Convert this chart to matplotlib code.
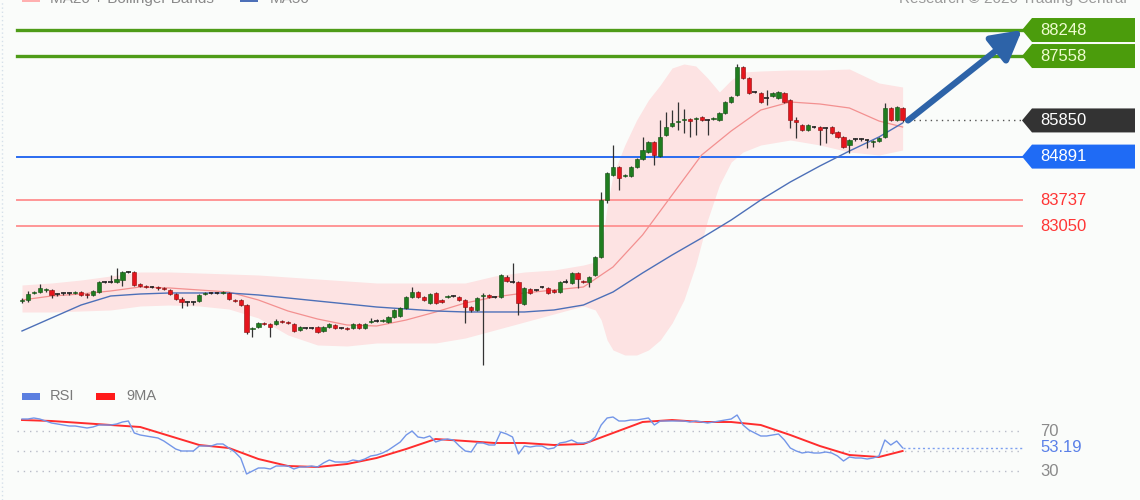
import numpy as np
import matplotlib.pyplot as plt
import matplotlib.transforms as mtransforms
from matplotlib.patches import Polygon, Rectangle
from matplotlib.lines import Line2D

plt.rcParams['font.family'] = ['Liberation Sans', 'DejaVu Sans']

# candles, one per bar from left to right
opens = [81061, 81088, 81274, 81300, 81353, 81353, 81247, 81274, 81274, 81274,
         81300, 81247, 81221, 81300, 81566, 81566, 81566, 81618, 81830, 81830,
         81512, 81459, 81433, 81433, 81406, 81353, 81247, 81115, 81035, 81035,
         81061, 81247, 81274, 81274, 81274, 81274, 81088, 81088, 80955, 80319,
         80372, 80478, 80451, 80451, 80531, 80504, 80451, 80292, 80345, 80345,
         80372, 80266, 80372, 80425, 80345, 80345, 80345, 80451, 80345, 80504,
         80531, 80531, 80504, 80637, 80664, 80876, 81168, 81300, 81168, 81008,
         81274, 81088, 81168, 81194, 81168, 81088, 80902, 80823, 81194, 81221,
         81168, 81168, 81698, 81566, 81566, 80982, 81380, 81353, 81433, 81406,
         81353, 81300, 81566, 81539, 81804, 81592, 81566, 81751, 82228, 83740,
         84403, 84615, 84377, 84377, 84615, 84827, 85013, 85278, 84907, 85464,
         85703, 85809, 85861, 85888, 85888, 85941, 85861, 85888, 85861, 86047,
         86339, 86525, 87267, 86975, 86604, 86578, 86445, 86498, 86445, 86578,
         86392, 85861, 85729, 85596, 85676, 85676, 85649, 85676, 85543, 85411,
         85199, 85358, 85358, 85331, 85278, 85305, 85411, 86180, 85861, 86180]
closes = [81088, 81247, 81300, 81406, 81380, 81221, 81247, 81274, 81274, 81300,
          81221, 81221, 81327, 81566, 81566, 81566, 81645, 81830, 81830, 81486,
          81459, 81433, 81433, 81406, 81380, 81247, 81115, 81035, 81035, 81035,
          81221, 81274, 81274, 81274, 81300, 81115, 81061, 80955, 80239, 80345,
          80478, 80451, 80372, 80531, 80504, 80478, 80266, 80372, 80345, 80345,
          80239, 80372, 80451, 80345, 80345, 80319, 80451, 80345, 80451, 80531,
          80531, 80557, 80637, 80823, 80876, 81168, 81300, 81168, 81088, 81247,
          81008, 81035, 81194, 81194, 81088, 80902, 80823, 81141, 81221, 81168,
          81168, 81751, 81592, 81566, 81008, 81406, 81274, 81353, 81433, 81274,
          81300, 81566, 81566, 81804, 81645, 81566, 81698, 82228, 83740, 84456,
          84615, 84324, 84403, 84615, 84827, 85066, 85278, 84933, 85411, 85676,
          85782, 85835, 85888, 85835, 85914, 85861, 85861, 85914, 86047, 86339,
          86472, 87267, 86975, 86578, 86604, 86339, 86445, 86578, 86604, 86339,
          85861, 85809, 85596, 85729, 85676, 85596, 85649, 85517, 85411, 85146,
          85331, 85358, 85358, 85331, 85305, 85384, 86180, 85861, 86206, 85850]
highs = [81141, 81327, 81327, 81512, 81406, 81380, 81274, 81300, 81300, 81327,
         81327, 81274, 81353, 81592, 81592, 81751, 81937, 81857, 81857, 81857,
         81539, 81486, 81459, 81459, 81433, 81380, 81274, 81168, 81061, 81061,
         81247, 81300, 81300, 81300, 81327, 81300, 81115, 81115, 80982, 80372,
         80504, 80504, 80478, 80584, 80557, 80531, 80478, 80398, 80372, 80372,
         80398, 80398, 80478, 80451, 80372, 80372, 80478, 80478, 80478, 80611,
         80584, 80584, 80664, 80849, 80902, 81194, 81433, 81327, 81194, 81274,
         81300, 81115, 81221, 81221, 81194, 81115, 80929, 81168, 81274, 81247,
         81194, 81778, 81751, 82069, 81592, 81433, 81406, 81380, 81459, 81433,
         81380, 81592, 81645, 81830, 81830, 81618, 81725, 82254, 83952, 84483,
         85199, 84642, 84430, 84642, 84854, 85411, 85305, 85305, 85861, 86074,
         86126, 86339, 86153, 85914, 85941, 85968, 85888, 85941, 86074, 86365,
         86498, 87347, 87294, 87002, 86631, 86604, 86657, 86604, 86631, 86604,
         86419, 85941, 85756, 85756, 85703, 85703, 85676, 85703, 85570, 85437,
         85358, 85384, 85384, 85358, 85331, 85411, 86312, 86206, 86233, 86206]
lows = [81008, 81035, 81247, 81274, 81300, 81141, 81194, 81221, 81221, 81247,
        81194, 81141, 81194, 81274, 81539, 81539, 81539, 81459, 81804, 81459,
        81433, 81406, 81406, 81353, 81353, 81221, 81088, 80876, 80929, 80955,
        81035, 81221, 81247, 81247, 81247, 81088, 81035, 80929, 80186, 80107,
        80345, 80425, 80107, 80425, 80478, 80451, 80239, 80266, 80319, 80319,
        80213, 80239, 80345, 80319, 80319, 80292, 80319, 80319, 80319, 80478,
        80504, 80504, 80478, 80611, 80637, 80849, 81141, 81141, 81061, 80982,
        80982, 81008, 81141, 81168, 81061, 80478, 80770, 80796, 79364, 81141,
        81141, 81141, 81566, 81539, 80690, 80955, 81247, 81327, 81406, 81247,
        81274, 81274, 81539, 81512, 81406, 81539, 81433, 81725, 82202, 83660,
        84377, 84005, 84350, 84350, 84588, 84801, 84986, 84668, 84880, 85437,
        85676, 85596, 85517, 85411, 85464, 85835, 85464, 85861, 85835, 86021,
        86312, 86498, 86949, 86551, 86578, 86312, 86259, 86472, 86419, 86312,
        85649, 85384, 85570, 85570, 85649, 85199, 85252, 85490, 85384, 85119,
        84986, 85305, 85305, 85119, 85146, 85278, 85384, 85835, 85835, 85809]

# moving averages
ind_idx = [0, 5, 10, 15, 20, 25, 30, 35, 40, 45, 50, 55, 60, 65, 70, 75,
           80, 85, 90, 95, 100, 105, 110, 115, 120, 125, 130, 135, 140, 145, 149]
ma20 = [81088, 81194, 81247, 81327, 81433, 81406, 81353, 81300, 81088, 80796,
        80584, 80425, 80398, 80557, 80770, 81008, 81168, 81274, 81353, 81433,
        81963, 82812, 83873, 84933, 85570, 86126, 86339, 86286, 86180, 85835, 85676]
ma50 = [80266, 80611, 80955, 81194, 81247, 81274, 81274, 81274, 81221, 81141,
        81061, 80982, 80902, 80849, 80796, 80770, 80770, 80770, 80823, 80955,
        81300, 81804, 82281, 82732, 83209, 83740, 84217, 84642, 85039, 85411, 85782]

# bollinger band, read denser where it bends
band_idx = [0, 5, 10, 15, 20, 25, 30, 35, 40, 45, 50, 55, 60, 65, 70, 75, 80, 85, 90,
            95, 97, 98, 99, 100, 102, 104, 106, 108, 110, 112, 114, 116, 118, 120, 122, 125,
            130, 135, 140, 145, 149]
bb_upper = [81486, 81539, 81618, 81725, 81830, 81830, 81804, 81778, 81751, 81698,
            81645, 81592, 81539, 81539, 81539, 81539, 81725, 81830, 81883,
            82016, 82096, 82414, 83554, 84403, 85199, 85861, 86392, 86790, 87241,
            87347, 87294, 86975, 86604, 86922, 87135, 87161,
            87188, 87188, 87214, 86843, 86737]
bb_lower = [80770, 80770, 80796, 80823, 80929, 80955, 80929, 80849, 80611, 80160,
            79895, 79868, 79948, 79948, 79948, 80080, 80292, 80504, 80717,
            80929, 80823, 80557, 80027, 79762, 79629, 79629, 79762, 80027, 80478,
            81088, 82016, 83209, 84138, 84748, 85013, 85199,
            85331, 85199, 85013, 84933, 85066]

rsi = [82, 82, 83, 82, 80, 78, 77, 76, 75, 75,
       74, 73, 74, 76, 76, 76, 77, 79, 80, 68,
       66, 65, 64, 63, 60, 56, 52, 50, 50, 50,
       55, 55, 55, 57, 57, 53, 49, 43, 27, 30,
       33, 33, 32, 35, 35, 35, 32, 34, 34, 35,
       34, 38, 41, 39, 39, 39, 41, 40, 42, 45,
       46, 48, 51, 55, 59, 66, 70, 64, 63, 65,
       59, 61, 62, 61, 55, 50, 49, 58, 58, 56,
       56, 69, 67, 64, 47, 55, 54, 55, 55, 52,
       53, 58, 59, 61, 58, 58, 59, 64, 76, 83,
       84, 80, 80, 81, 81, 82, 83, 76, 80, 80,
       80, 80, 80, 79, 80, 79, 78, 79, 80, 81,
       82, 86, 76, 71, 68, 65, 65, 66, 67, 61,
       53, 50, 48, 49, 48, 48, 49, 48, 45, 40,
       44, 43, 43, 42, 43, 45, 61, 56, 60, 53.19]
rsi_ma9 = [81, 80, 78, 76, 74, 65, 56, 53, 42, 35, 34, 37, 43, 52, 62, 60,
           58, 58, 56, 57, 68, 79, 81, 79, 79, 76, 66, 55, 46, 44, 50]

levels_green = [88248, 87558]
level_last = 85850
level_blue = 84891
levels_red = [83737, 83050]
rsi_grid = [70, 50, 30]
rsi_last = 53.19

W, H = 1140, 500
bar_step = 5.91
fig = plt.figure(figsize=(W / 100, H / 100), dpi=100)
fig.patch.set_facecolor('#fafcfa')

ax = fig.add_axes([0, 120 / H, 1, 380 / H])
ax2 = fig.add_axes([0, 0, 1, 120 / H])
for a in (ax, ax2):
    a.set_axis_off()
    a.patch.set_alpha(0)
    a.set_xlim(-22 / bar_step, (W - 22) / bar_step)
ax.set_ylim(78966, 89044)
ax2.set_ylim(1, 121)

def fx(px):
    return px / W

def fy(py):
    return 1 - py / H

def bar_at(px):
    return (px - 22) / bar_step

# bollinger band and moving averages
ax.fill_between(band_idx, bb_lower, bb_upper, color='#fde3e3', lw=0, zorder=1)
ax.plot(ind_idx, ma20, color='#f39090', lw=0.9, zorder=3)
ax.plot(ind_idx, ma50, color='#4d70b8', lw=1.0, zorder=3)

# candles
o = np.array(opens); c = np.array(closes)
h = np.array(highs); l = np.array(lows)
x = np.arange(len(o))
up = c > o
dn = c < o
fl = c == o
ax.vlines(x, l, h, color='#333333', lw=0.9, zorder=4)
ax.bar(x[up], (c - o)[up], bottom=o[up], width=0.72, color='#1f7d1f',
       edgecolor='#124d12', lw=0.4, zorder=5)
ax.bar(x[dn], (c - o)[dn], bottom=o[dn], width=0.72, color='#e5151d',
       edgecolor='#8c0b0b', lw=0.4, zorder=5)
ax.hlines(o[fl], x[fl] - 0.4, x[fl] + 0.4, color='#222222', lw=1.2, zorder=5)

# levels
for v in levels_green:
    ax.axhline(v, fx(17), fx(1022), color='#4e9c18', lw=2.4, zorder=2)
ax.axhline(level_blue, fx(17), fx(1022), color='#2a6cf0', lw=1.4, zorder=2)
for v in levels_red:
    ax.axhline(v, fx(17), fx(1022), color='#ff9696', lw=1.4, zorder=2)
ax.axhline(level_last, fx(908), fx(1022), color='#555555', lw=1.0, ls=(0, (1, 3)), zorder=2)

tr = mtransforms.blended_transform_factory(ax.transAxes, ax.transData)
units_per_px = (89044 - 78966) / 380

def tag(v, face, txt):
    hh = 12 * units_per_px
    pts = [(fx(1022), v), (fx(1032), v + hh), (fx(1135), v + hh),
           (fx(1135), v - hh), (fx(1032), v - hh)]
    ax.add_patch(Polygon(pts, closed=True, transform=tr, facecolor=face,
                         edgecolor='none', zorder=6, clip_on=False))
    ax.text(fx(1040), v, str(v), transform=tr, color=txt, fontsize=12,
            va='center', ha='left', zorder=7)

for v in levels_green:
    tag(v, '#4b9c0c', '#eefcd0')
tag(level_last, '#333333', '#ffffff')
tag(level_blue, '#1f6bf5', '#ffffff')
for v in levels_red:
    ax.text(fx(1040), v, str(v), transform=tr, color='#ff3535', fontsize=12,
            va='center', ha='left')

ax.annotate('', xy=(bar_at(1022), levels_green[0]), xytext=(bar_at(908), level_last),
            arrowprops=dict(arrowstyle='-|>,head_length=0.9,head_width=0.5',
                            lw=4.5, color='#2d63a8', shrinkA=0, shrinkB=0,
                            mutation_scale=20), zorder=8)

# RSI panel
for v in rsi_grid:
    ax2.axhline(v, fx(17), fx(1022), color='#b8bcc8', lw=1.0, ls=(0, (1, 3.5)))
ax2.axhline(rsi_last, fx(903), fx(1022), color='#7da0f0', lw=1.0, ls=(0, (1.5, 2)))
ax2.plot(ind_idx, rsi_ma9, color='#ff2d2d', lw=1.4, zorder=2)
ax2.plot(x, rsi, color='#7396e8', lw=1.0, zorder=3)
tr2 = mtransforms.blended_transform_factory(ax2.transAxes, ax2.transData)
ax2.text(fx(1040), 70, '70', transform=tr2, color='#8a8a8a', fontsize=12, va='center')
ax2.text(fx(1040), 30, '30', transform=tr2, color='#8a8a8a', fontsize=12, va='center')
ax2.text(fx(1040), rsi_last, f'{rsi_last:.2f}', transform=tr2, color='#5a80e8',
         fontsize=12, va='center')

# legends and captions
fig.patches.append(Rectangle((fx(22), fy(400)), fx(18), 7 / H, transform=fig.transFigure,
                             facecolor='#5b7fe0', edgecolor='none'))
fig.text(fx(50), fy(396), 'RSI', color='#7a7a7a', fontsize=10.5, va='center')
fig.patches.append(Rectangle((fx(96), fy(400)), fx(19), 7 / H, transform=fig.transFigure,
                             facecolor='#ff1a1a', edgecolor='none'))
fig.text(fx(126), fy(396), '9MA', color='#7a7a7a', fontsize=10.5, va='center')

# top legend sits partly above the frame, as in the source image
fig.patches.append(Rectangle((fx(22), fy(2)), fx(18), 8 / H, transform=fig.transFigure,
                             facecolor='#ffb0b0', edgecolor='none'))
fig.text(fx(50), fy(3), 'MA20 + Bollinger Bands', color='#8a8a8a', fontsize=11, va='baseline')
fig.patches.append(Rectangle((fx(240), fy(2)), fx(18), 8 / H, transform=fig.transFigure,
                             facecolor='#4d70b8', edgecolor='none'))
fig.text(fx(270), fy(3), 'MA50', color='#8a8a8a', fontsize=11, va='baseline')
fig.text(fx(1127), fy(3), 'Research \u00a9 2020 Trading Central', color='#9a9a9a',
         fontsize=11, va='baseline', ha='right')

fig.lines.append(Line2D([fx(2), fx(2)], [0, 1], transform=fig.transFigure,
                        color='#d5e0ea', lw=1, ls=(0, (1, 2))))

fig.savefig('out.png', dpi=100, facecolor=fig.get_facecolor())
